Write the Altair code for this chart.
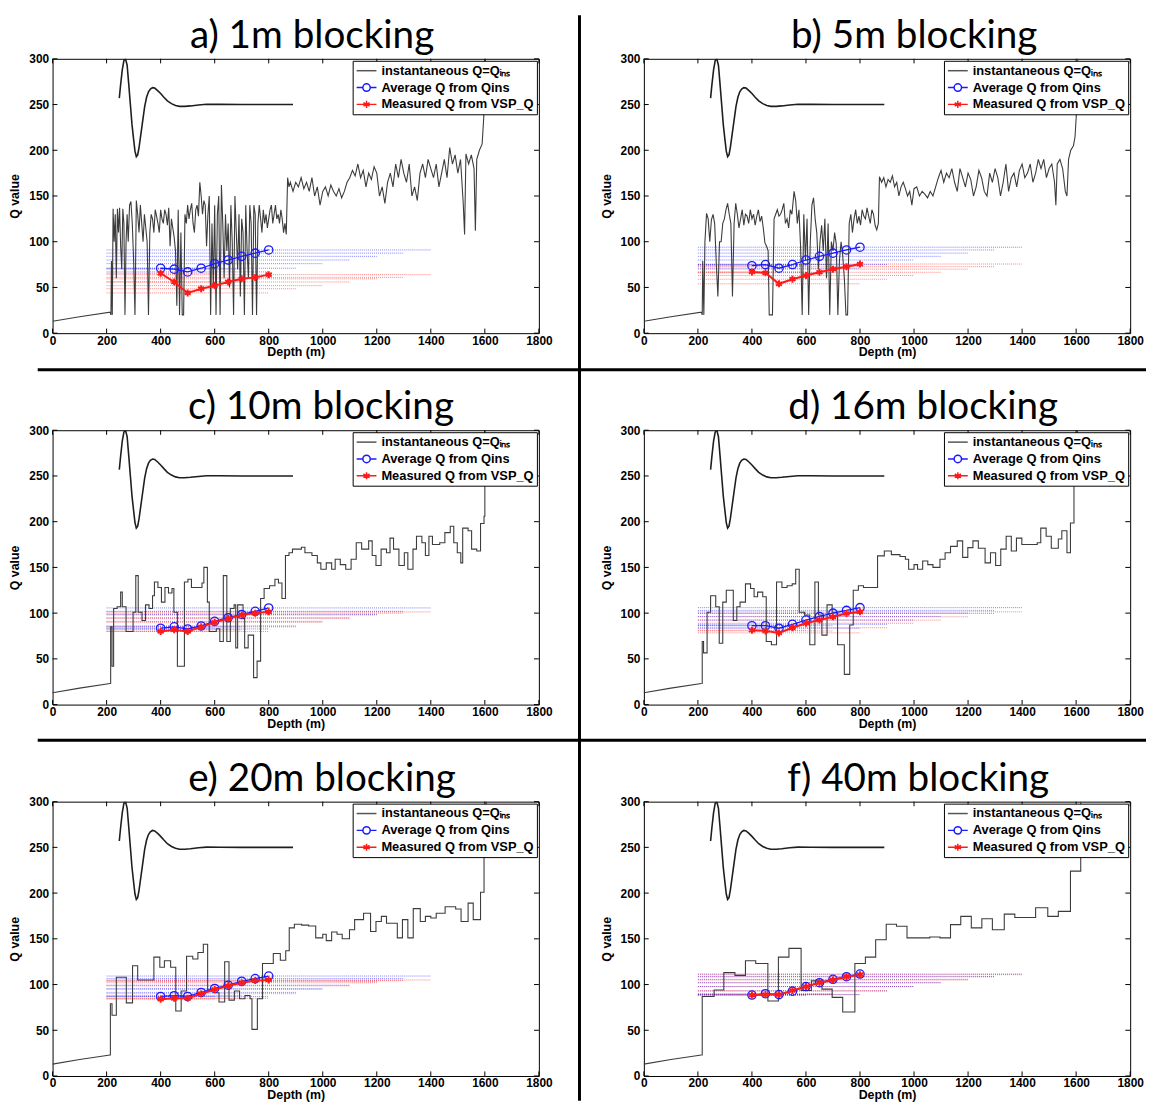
import altair as alt
import pandas as pd

# ---------------- data ----------------
SERIES = ["instantaneous Q=Qᵢₙₛ", "Average Q from Qins", "Measured Q from VSP_Q"]
TITLES = ["a) 1m blocking", "b) 5m blocking", "c) 10m blocking",
          "d) 16m blocking", "e) 20m blocking", "f) 40m blocking"]

X_TICKS = [0, 200, 400, 600, 800, 1000, 1200, 1400, 1600, 1800]
Y_TICKS = [0, 50, 100, 150, 200, 250, 300]

MARK_DEPTH = [400, 450, 500, 550, 600, 650, 700, 750, 800]
DOT_START = 200
DOT_END = [600, 700, 800, 900, 1000, 1100, 1200, 1300, 1400]

RAMP = [(0, 13), (100, 18), (213, 23)]

WAVE = [(247, 257), (252, 272), (258, 288), (264, 298), (270, 300), (276, 293), (282, 272),
        (288, 250), (294, 228), (300, 212), (305, 199), (310, 193), (315, 195), (320, 203),
        (327, 218), (334, 233), (341, 248), (348, 258), (355, 264), (362, 267), (370, 268.5),
        (378, 268), (390, 265), (400, 262), (412, 258), (425, 254), (440, 251), (455, 249),
        (470, 248), (490, 248), (510, 248.5), (540, 249.5), (570, 250.3), (620, 250.2),
        (700, 250), (890, 250)]

A_CURVE = [(216, 20), (218, 79), (221, 20), (224, 136), (228, 100), (232, 130), (236, 60),
           (240, 136), (244, 110), (248, 137), (252, 95), (256, 70), (260, 136), (264, 120),
           (268, 20), (272, 100), (276, 130), (280, 100), (285, 140), (290, 144), (295, 120),
           (300, 80), (305, 20), (310, 145), (315, 130), (320, 110), (325, 140), (330, 120),
           (335, 100), (340, 130), (345, 115), (350, 100), (355, 20), (360, 110), (365, 130),
           (370, 125), (375, 110), (380, 135), (385, 128), (390, 120), (395, 110), (400, 135),
           (405, 125), (410, 120), (415, 135), (420, 130), (425, 118), (430, 137), (435, 95),
           (440, 125), (445, 115), (450, 105), (455, 90), (460, 30), (465, 135), (470, 20),
           (475, 110), (480, 20), (485, 20), (490, 130), (495, 120), (500, 140), (505, 125),
           (510, 135), (515, 142), (520, 120), (525, 110), (530, 135), (535, 140), (540, 128),
           (545, 165), (550, 150), (555, 130), (560, 145), (565, 140), (570, 95), (575, 130),
           (580, 150), (585, 20), (590, 120), (595, 50), (600, 140), (605, 20), (610, 130),
           (615, 150), (620, 20), (625, 162), (630, 120), (635, 60), (640, 130), (645, 90),
           (650, 120), (655, 50), (660, 140), (665, 100), (670, 20), (675, 150), (680, 110),
           (685, 70), (690, 130), (695, 40), (700, 125), (705, 110), (710, 20), (715, 140),
           (720, 90), (725, 60), (730, 140), (735, 120), (740, 20), (745, 140), (750, 130),
           (755, 20), (760, 120), (765, 140), (770, 125), (775, 110), (780, 135), (785, 120),
           (790, 130), (795, 115), (800, 125), (805, 135), (810, 140), (815, 120), (820, 130),
           (825, 140), (830, 125), (835, 130), (840, 120), (845, 135), (850, 125), (855, 110),
           (860, 120), (865, 108), (870, 170), (875, 160), (880, 165), (890, 155), (900, 165),
           (910, 160), (920, 170), (930, 158), (940, 165), (950, 155), (960, 170), (970, 150),
           (980, 160), (990, 140), (1000, 155), (1010, 160), (1020, 150), (1030, 162),
           (1040, 155), (1050, 150), (1060, 158), (1070, 148), (1080, 155), (1090, 165),
           (1100, 170), (1110, 178), (1120, 172), (1130, 185), (1140, 170), (1150, 178),
           (1160, 160), (1170, 175), (1180, 168), (1190, 182), (1200, 175), (1210, 150),
           (1220, 160), (1230, 142), (1240, 165), (1250, 175), (1260, 160), (1270, 185),
           (1280, 170), (1290, 190), (1300, 175), (1310, 165), (1320, 185), (1330, 150),
           (1340, 160), (1350, 145), (1360, 175), (1370, 185), (1380, 170), (1390, 190),
           (1400, 180), (1410, 170), (1420, 185), (1430, 160), (1440, 175), (1450, 190),
           (1460, 170), (1470, 203), (1480, 185), (1490, 195), (1500, 175), (1510, 190),
           (1520, 142), (1525, 108), (1530, 196), (1540, 185), (1550, 195), (1560, 180),
           (1565, 112), (1570, 190), (1580, 200), (1590, 207), (1596, 236), (1602, 300),
           (1606, 330)]

B_CURVE = [(216, 20), (218, 79), (222, 20), (226, 100), (232, 131), (238, 125), (244, 100),
           (250, 124), (256, 130), (262, 120), (268, 77), (274, 40), (280, 100), (286, 100),
           (292, 120), (298, 125), (304, 135), (310, 142), (316, 130), (322, 120), (328, 40),
           (334, 120), (340, 142), (346, 130), (352, 115), (358, 125), (364, 135), (370, 118),
           (376, 130), (382, 128), (388, 120), (394, 135), (400, 125), (406, 130), (412, 118),
           (418, 128), (424, 135), (430, 122), (436, 128), (442, 115), (448, 99), (454, 95),
           (460, 90), (464, 20), (470, 20), (476, 20), (482, 125), (488, 130), (494, 135),
           (500, 128), (506, 130), (512, 135), (518, 142), (524, 120), (530, 125), (536, 115),
           (542, 135), (548, 130), (556, 155), (562, 145), (568, 120), (574, 135), (580, 95),
           (586, 20), (592, 130), (598, 80), (604, 125), (610, 20), (616, 100), (622, 140),
           (628, 148), (634, 125), (640, 110), (646, 70), (652, 100), (658, 118), (664, 90),
           (670, 125), (676, 60), (682, 120), (688, 20), (694, 100), (700, 90), (706, 110),
           (712, 98), (718, 20), (724, 80), (730, 100), (736, 85), (742, 60), (748, 20),
           (754, 20), (760, 120), (766, 130), (772, 110), (778, 125), (784, 135), (790, 120),
           (796, 128), (802, 118), (808, 135), (814, 128), (820, 125), (826, 137), (832, 128),
           (838, 120), (844, 135), (850, 130), (856, 118), (862, 113), (868, 120), (872, 171),
           (880, 165), (888, 170), (896, 160), (904, 168), (912, 165), (920, 172), (928, 160),
           (936, 165), (944, 150), (952, 160), (960, 165), (968, 158), (976, 150), (984, 155),
           (992, 140), (1000, 158), (1010, 160), (1020, 150), (1030, 155), (1040, 152),
           (1050, 148), (1060, 155), (1070, 150), (1080, 160), (1090, 170), (1100, 178),
           (1110, 165), (1120, 175), (1130, 170), (1140, 180), (1150, 165), (1160, 155),
           (1170, 180), (1180, 170), (1190, 160), (1200, 175), (1210, 168), (1220, 150),
           (1230, 160), (1240, 178), (1250, 170), (1260, 155), (1270, 150), (1280, 175),
           (1290, 165), (1300, 180), (1310, 170), (1320, 150), (1330, 165), (1340, 185),
           (1350, 155), (1360, 170), (1370, 175), (1380, 160), (1390, 178), (1400, 185),
           (1410, 170), (1420, 175), (1430, 185), (1440, 165), (1450, 175), (1460, 190),
           (1470, 180), (1480, 190), (1490, 170), (1500, 180), (1510, 185), (1520, 165),
           (1525, 140), (1530, 185), (1540, 190), (1550, 180), (1560, 155), (1566, 150),
           (1572, 190), (1580, 200), (1590, 205), (1596, 215), (1601, 240), (1606, 300),
           (1610, 330)]

C_STEPS = [(215, 85), (220, 42), (226, 105), (239, 107), (252, 123), (258, 107), (272, 80),
           (298, 101), (308, 141), (317, 101), (331, 92), (344, 109), (357, 105), (370, 119),
           (377, 134), (390, 128), (403, 112), (416, 128), (429, 122), (442, 127), (449, 101),
           (462, 42), (488, 134), (501, 137), (514, 128), (553, 133), (560, 150), (573, 112),
           (580, 80), (606, 83), (619, 69), (632, 141), (645, 69), (658, 105), (672, 109),
           (678, 62), (685, 109), (705, 94), (711, 62), (724, 76), (744, 29.5), (757, 47.5),
           (770, 116), (783, 127), (803, 130), (823, 137), (836, 133), (849, 116), (862, 163),
           (875, 166), (888, 170), (921, 172), (934, 166), (960, 163), (980, 155), (993, 148),
           (1013, 155), (1033, 148), (1046, 159), (1065, 153), (1085, 148), (1105, 159),
           (1124, 177), (1144, 170), (1170, 179), (1183, 163), (1197, 152), (1216, 170),
           (1236, 166), (1249, 182), (1262, 170), (1282, 152), (1302, 166), (1315, 148),
           (1334, 170), (1347, 184), (1367, 177), (1380, 163), (1393, 184), (1406, 175),
           (1433, 177), (1452, 188), (1472, 195), (1485, 177), (1498, 166), (1511, 155),
           (1518, 193), (1538, 190), (1551, 170), (1570, 168), (1584, 198), (1597, 206),
           (1600, 330)]

D_STEPS = [(216, 69), (221, 56.5), (234, 101), (247, 119), (266, 107), (279, 67), (292, 112),
           (305, 125), (331, 92), (344, 107), (356, 112), (376, 132), (395, 127), (408, 118),
           (421, 123), (440, 118), (453, 69), (472, 65.5), (491, 134), (511, 128), (530, 130),
           (549, 132), (562, 148), (575, 101), (595, 98), (614, 65.5), (633, 134), (646, 98),
           (659, 76), (678, 109), (697, 101), (717, 65.5), (742, 33), (762, 87), (775, 125),
           (794, 130), (813, 128), (865, 162.6), (890, 168), (916, 164), (948, 162), (968, 159),
           (980, 148), (1000, 153), (1013, 148), (1032, 157), (1051, 153), (1070, 150),
           (1096, 159), (1115, 166), (1135, 173), (1160, 179), (1180, 161), (1199, 171.6),
           (1218, 179), (1238, 171), (1263, 155), (1283, 166), (1302, 152), (1321, 170),
           (1341, 184), (1360, 168), (1379, 182), (1399, 175), (1456, 177), (1469, 193),
           (1489, 184), (1508, 171), (1534, 181), (1547, 190), (1566, 166), (1579, 198.5),
           (1592, 242), (1605, 330)]

E_STEPS = [(214, 79), (220, 66.5), (236, 108), (273, 80), (296, 120.5), (315, 105), (375, 130),
           (397, 119), (414, 126), (437, 119), (456, 71), (476, 93), (496, 131), (519, 128),
           (538, 135), (558, 144), (574, 94), (598, 91), (616, 81), (637, 125), (653, 83),
           (673, 93), (692, 84.5), (712, 88), (731, 84.5), (738, 51), (758, 84.5), (777, 123),
           (817, 134), (843, 126.6), (863, 137), (876, 162), (895, 166), (922, 165), (948, 164),
           (974, 151), (1000, 155), (1013, 148), (1033, 157.5), (1053, 155), (1072, 150),
           (1099, 160), (1118, 171), (1151, 178), (1177, 158), (1197, 169), (1217, 174.5),
           (1236, 167), (1276, 151), (1295, 171), (1315, 151), (1335, 183), (1361, 169),
           (1380, 174.5), (1400, 172.7), (1420, 178), (1453, 185), (1492, 182.7), (1512, 169),
           (1538, 189), (1557, 171), (1584, 201), (1597, 244.6), (1605, 330)]

F_STEPS = [(216, 87), (260, 94), (296, 113), (337, 110), (376, 126), (414, 123), (459, 82),
           (498, 130), (537, 139.6), (582, 93.5), (620, 104), (659, 95), (697, 86), (736, 70),
           (781, 123), (820, 130), (858, 149), (897, 166), (935, 163.7), (974, 151), (1058, 152),
           (1096, 151), (1135, 165.5), (1173, 174.5), (1212, 162), (1251, 172), (1290, 160),
           (1334, 177), (1373, 173.4), (1450, 184), (1495, 174.5), (1534, 180), (1579, 224),
           (1617, 330)]

A_AVG = [71, 70, 67, 71, 76, 80, 84, 87.5, 91]
A_MEAS = [65.5, 56, 44, 48.6, 52, 56, 59.4, 61, 64]
B_AVG = [73.8, 75, 71, 75, 80, 84, 87.5, 91, 94]
B_MEAS = [67, 66, 54, 59, 63, 66.6, 70, 72.7, 75.6]
C_AVG = [83.5, 85, 82.7, 86, 91, 95, 98.6, 102, 105.7]
C_MEAS = [80, 81.7, 80, 85, 90, 94, 98, 100, 101.4]
D_AVG = [86.3, 86.3, 83.5, 87.8, 92.4, 96.4, 100, 103, 106]
D_MEAS = [81.3, 80.6, 78.4, 84, 89, 92.4, 96, 99.6, 101.4]
E_AVG = [87, 87.8, 87, 91.4, 95.7, 99.3, 103.6, 106.5, 109.3]
E_MEAS = [84, 85, 85, 90, 94.6, 98.6, 102, 104.3, 105]
F_AVG = [88.5, 90, 89, 92.8, 97.8, 102, 105.7, 108.6, 111.5]
F_MEAS = [88.5, 89, 89, 93.5, 97.8, 102, 105, 108.6, 110.8]

PANELS = [
    (TITLES[0], A_CURVE, "linear", A_AVG, A_MEAS),
    (TITLES[1], B_CURVE, "linear", B_AVG, B_MEAS),
    (TITLES[2], C_STEPS, "step-after", C_AVG, C_MEAS),
    (TITLES[3], D_STEPS, "step-after", D_AVG, D_MEAS),
    (TITLES[4], E_STEPS, "step-after", E_AVG, E_MEAS),
    (TITLES[5], F_STEPS, "step-after", F_AVG, F_MEAS),
]

# ---------------- styling ----------------
W, H = 491, 277
TITLE_X = [262, 273, 271, 282, 272, 277]   # pixel centre of each panel heading
BLUE = "#1a1aff"
RED = "#ff1a1a"
GRAY = "#3c3c3c"
AXFONT = "Liberation Sans"
ASTER = "M0,-1L0,1M-0.87,-0.5L0.87,0.5M-0.87,0.5L0.87,-0.5"
# legend glyphs: 12px symbol box, line drawn 20px wide
LEG_SHAPES = [
    "M-1.67,0L1.67,0",
    "M-1.67,0L-0.62,0M0.62,0L1.67,0M0.62,0A0.62,0.62,0,1,1,-0.62,0A0.62,0.62,0,1,1,0.62,0",
    "M-1.67,0L1.67,0M0,-0.6L0,0.6M-0.52,-0.3L0.52,0.3M-0.52,0.3L0.52,-0.3",
]

XSCALE = alt.Scale(domain=[0, 1800], nice=False, zero=False)
YSCALE = alt.Scale(domain=[0, 300], nice=False, zero=False)
XAXIS = alt.Axis(values=X_TICKS, title="Depth (m)", format="d", labelPadding=2,
                 titlePadding=0, labelFlush=False, labelOverlap=False)
YAXIS = alt.Axis(values=Y_TICKS, title="Q value", format="d", labelPadding=4,
                 titlePadding=7, labelOverlap=False)


def X(field):
    return alt.X(field, type="quantitative", scale=XSCALE, axis=XAXIS)


def Y(field):
    return alt.Y(field, type="quantitative", scale=YSCALE, axis=YAXIS)


def frame(pairs):
    return pd.DataFrame({"i": list(range(len(pairs))),
                         "depth": [p[0] for p in pairs],
                         "q": [p[1] for p in pairs]})


def make_panel(k):
    title, curve, interp, avg, meas = PANELS[k]
    pts = pd.DataFrame({"depth": MARK_DEPTH, "avg": avg, "meas": meas,
                        "start": DOT_START, "end": DOT_END})
    one = pd.DataFrame({"k": [0]})
    layers = []
    # dotted averaging lines
    layers.append(alt.Chart(pts).mark_rule(color=RED, strokeDash=[1, 1], strokeWidth=1,
                                           opacity=0.55)
                  .encode(x=X("start"), x2="end", y=Y("meas")))
    layers.append(alt.Chart(pts).mark_rule(color=BLUE, strokeDash=[1, 1], strokeWidth=1,
                                           opacity=0.55)
                  .encode(x=X("start"), x2="end", y=Y("avg")))
    # instantaneous Q
    if interp == "linear":
        cdf = frame(RAMP + curve)
        layers.append(alt.Chart(cdf).mark_line(color=GRAY, strokeWidth=1.1, clip=True)
                      .encode(x=X("depth"), y=Y("q"), order="i:Q"))
    else:
        layers.append(alt.Chart(frame(RAMP)).mark_line(color=GRAY, strokeWidth=1.1)
                      .encode(x=X("depth"), y=Y("q"), order="i:Q"))
        sdf = frame(RAMP[-1:] + curve)
        layers.append(alt.Chart(sdf).mark_line(color=GRAY, strokeWidth=1.1, clip=True,
                                               interpolate="step-after")
                      .encode(x=X("depth"), y=Y("q"), order="i:Q"))
    # wavelet
    layers.append(alt.Chart(frame(WAVE)).mark_line(color="#1e1e1e", strokeWidth=1.6, clip=True)
                  .encode(x=X("depth"), y=Y("q"), order="i:Q"))
    # average & measured
    layers.append(alt.Chart(pts).mark_line(color=BLUE, strokeWidth=1.3)
                  .encode(x=X("depth"), y=Y("avg")))
    layers.append(alt.Chart(pts).mark_point(shape="circle", filled=False, color=BLUE,
                                            size=70, strokeWidth=1.3, opacity=1)
                  .encode(x=X("depth"), y=Y("avg")))
    layers.append(alt.Chart(pts).mark_line(color=RED, strokeWidth=2)
                  .encode(x=X("depth"), y=Y("meas")))
    layers.append(alt.Chart(pts).mark_point(shape=ASTER, filled=False, color=RED,
                                            size=50, strokeWidth=2, opacity=1)
                  .encode(x=X("depth"), y=Y("meas")))
    # inward ticks
    xt = pd.DataFrame({"t": X_TICKS, "lo": 0, "lo2": 5, "hi": 295, "hi2": 300})
    yt = pd.DataFrame({"t": Y_TICKS, "lo": 0, "lo2": 18, "hi": 1782, "hi2": 1800})
    layers.append(alt.Chart(xt).mark_rule(color="black", strokeWidth=1)
                  .encode(x=X("t"), y=Y("lo"), y2="lo2"))
    layers.append(alt.Chart(xt).mark_rule(color="black", strokeWidth=1)
                  .encode(x=X("t"), y=Y("hi"), y2="hi2"))
    layers.append(alt.Chart(yt).mark_rule(color="black", strokeWidth=1)
                  .encode(y=Y("t"), x=X("lo"), x2="lo2"))
    layers.append(alt.Chart(yt).mark_rule(color="black", strokeWidth=1)
                  .encode(y=Y("t"), x=X("hi"), x2="hi2"))
    # legend (invisible carrier layer)
    leg = pd.DataFrame({"series": SERIES, "depth": MARK_DEPTH[:3], "q": avg[:3]})
    layers.append(alt.Chart(leg).mark_point(filled=False, opacity=0)
                  .encode(x=X("depth"), y=Y("q"),
                          color=alt.Color("series:N",
                                          scale=alt.Scale(domain=SERIES,
                                                          range=["#555555", BLUE, RED]),
                                          legend=alt.Legend(title=None)),
                          shape=alt.Shape("series:N",
                                          scale=alt.Scale(domain=SERIES, range=LEG_SHAPES),
                                          legend=alt.Legend(title=None))))
    # panel heading
    layers.append(alt.Chart(one).mark_text(text=title, font="Lato", fontSize=39,
                                           color="black", align="center",
                                           baseline="top")
                  .encode(x=alt.value(TITLE_X[k]), y=alt.value(-42)))
    # panel separators (decoration, drawn once)
    if k == 0:
        layers.append(alt.Chart(one).mark_rule(color="black", strokeWidth=3)
                      .encode(x=alt.value(532), y=alt.value(-44), y2=alt.value(1052)))
        layers.append(alt.Chart(one).mark_rule(color="black", strokeWidth=3)
                      .encode(x=alt.value(-15), x2=alt.value(1104), y=alt.value(314)))
        layers.append(alt.Chart(one).mark_rule(color="black", strokeWidth=3)
                      .encode(x=alt.value(-15), x2=alt.value(1104), y=alt.value(688)))
    return alt.layer(*layers).properties(width=W, height=H)


chart = (alt.concat(*[make_panel(k) for k in range(6)], columns=2,
                    spacing={"row": 98, "column": 106}, bounds="flush")
         .resolve_scale(color="independent", shape="independent")
         .resolve_legend(color="independent", shape="independent")
         .properties(padding=0, background="white")
         .configure_view(stroke="black", strokeWidth=1)
         .configure_axis(labelFont=AXFONT, labelFontWeight="bold", labelFontSize=12,
                         labelColor="black", titleFont=AXFONT, titleFontWeight="bold",
                         titleFontSize=12.5, titleColor="black", ticks=False, domain=False,
                         grid=False)
         .configure_legend(orient="top-right", offset=2, strokeColor="black",
                           fillColor="white", padding=3, rowPadding=3,
                           labelFont=AXFONT, labelFontWeight="bold", labelFontSize=13,
                           labelColor="black", symbolSize=144, symbolStrokeWidth=1.5,
                           symbolOpacity=1, symbolOffset=4, labelOffset=8,
                           labelLimit=300))

chart.save("out.html", embed_options={"renderer": "svg", "actions": False})
